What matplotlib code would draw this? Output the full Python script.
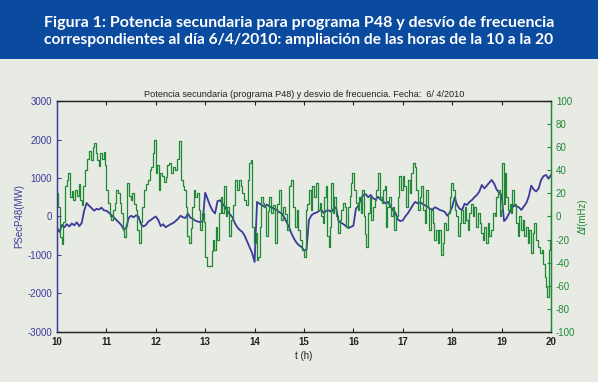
import numpy as np
import matplotlib
matplotlib.use("Agg")
import matplotlib.pyplot as plt
from matplotlib.patches import Rectangle

plt.rcParams['font.family'] = ['Liberation Sans', 'DejaVu Sans']
plt.rcParams['axes.unicode_minus'] = False

# potencia secundaria P48 (MW), un valor cada 0.05 h de 10 a 20
t_p = np.arange(10, 20.001, 0.05)
p_sec = [
    -300, -400, -220, -280, -200, -260, -180, -230, -150, -250,
    -170, 150, 350, 280, 220, 150, 200, 180, 230, 160,
    150, 100, 40, -20, -90, -150, -220, -330, -300, -40,
    20, -20, 30, 0, -200, -260, -220, -130, -90, -40,
    0, -90, -250, -200, -280, -240, -200, -170, -120, -60,
    20, -20, -40, 80, -30, -60, -110, -130, -150, -120,
    620, 450, 280, 150, 80, 400, 420, 340, 250, 140,
    60, -20, -170, -280, -350, -400, -500, -650, -800, -950,
    -1180, 380, 330, 300, 250, 310, 260, 230, 200, 170,
    110, 80, -20, -150, -290, -450, -580, -680, -750, -790,
    -880, -860, -90, 30, 80, 100, 140, 170, 90, 150,
    160, 120, 200, 240, -130, -160, -200, -250, -300, -270,
    -240, 200, 280, 450, 560, 580, 500, 560, 470, 440,
    510, 440, 400, 340, 380, 270, 160, 100, -80, -120,
    -100, 0, 80, 180, 290, 380, 340, 370, 330, 290,
    250, 200, 180, 240, 210, 170, 150, 120, 20, 100,
    250, 500, 300, 200, 170, 330, 300, 380, 430, 500,
    560, 650, 820, 730, 800, 880, 950, 850, 700, 620,
    560, -120, -50, 80, 200, 290, 260, 240, 170, 260,
    350, 520, 800, 700, 650, 730, 950, 1050, 1080, 980,
    1080,
]

# desvio de frecuencia (mHz), escalones: instante de cambio y valor
t_f = [
    10.00, 10.03, 10.07, 10.10, 10.13, 10.16, 10.20, 10.23, 10.26, 10.30,
    10.33, 10.37, 10.40, 10.44, 10.47, 10.50, 10.53, 10.57, 10.60, 10.64,
    10.68, 10.72, 10.75, 10.78, 10.82, 10.85, 10.88, 10.92, 10.95, 10.98,
    11.00, 11.03, 11.07, 11.10, 11.14, 11.17, 11.20, 11.24, 11.27, 11.30,
    11.33, 11.36, 11.40, 11.42, 11.45, 11.49, 11.52, 11.55, 11.59, 11.62,
    11.66, 11.70, 11.73, 11.77, 11.80, 11.84, 11.88, 11.91, 11.94, 11.97,
    12.00, 12.03, 12.06, 12.09, 12.13, 12.17, 12.20, 12.23, 12.27, 12.31,
    12.35, 12.39, 12.43, 12.47, 12.51, 12.55, 12.58, 12.61, 12.64, 12.67,
    12.71, 12.74, 12.77, 12.80, 12.84, 12.87, 12.90, 12.94, 12.97, 13.00,
    13.03, 13.13, 13.15, 13.18, 13.21, 13.24, 13.28, 13.31, 13.35, 13.38,
    13.42, 13.45, 13.48, 13.52, 13.56, 13.60, 13.64, 13.68, 13.72, 13.75,
    13.79, 13.83, 13.86, 13.89, 13.92, 13.95, 13.98, 14.02, 14.04, 14.07,
    14.10, 14.13, 14.17, 14.20, 14.23, 14.27, 14.30, 14.34, 14.38, 14.42,
    14.46, 14.49, 14.53, 14.57, 14.61, 14.65, 14.70, 14.74, 14.78, 14.81,
    14.85, 14.88, 14.92, 14.96, 15.00, 15.04, 15.07, 15.10, 15.14, 15.17,
    15.21, 15.24, 15.28, 15.32, 15.35, 15.38, 15.41, 15.44, 15.47, 15.50,
    15.52, 15.55, 15.58, 15.61, 15.65, 15.68, 15.72, 15.75, 15.79, 15.82,
    15.85, 15.89, 15.93, 15.96, 15.98, 16.02, 16.06, 16.09, 16.12, 16.15,
    16.18, 16.21, 16.24, 16.26, 16.29, 16.33, 16.36, 16.40, 16.43, 16.46,
    16.49, 16.53, 16.57, 16.60, 16.63, 16.66, 16.69, 16.73, 16.76, 16.80,
    16.83, 16.86, 16.90, 16.93, 16.97, 17.00, 17.03, 17.07, 17.10, 17.14,
    17.17, 17.20, 17.24, 17.26, 17.30, 17.34, 17.37, 17.40, 17.44, 17.47,
    17.51, 17.54, 17.57, 17.61, 17.64, 17.68, 17.71, 17.74, 17.78, 17.81,
    17.84, 17.88, 17.91, 17.95, 17.98, 18.01, 18.05, 18.08, 18.11, 18.15,
    18.18, 18.21, 18.25, 18.28, 18.32, 18.35, 18.38, 18.42, 18.45, 18.48,
    18.52, 18.56, 18.59, 18.62, 18.65, 18.69, 18.72, 18.75, 18.79, 18.82,
    18.86, 18.89, 18.92, 18.96, 18.99, 19.01, 19.04, 19.06, 19.09, 19.12,
    19.16, 19.19, 19.22, 19.26, 19.29, 19.33, 19.36, 19.40, 19.43, 19.46,
    19.50, 19.53, 19.56, 19.60, 19.63, 19.66, 19.70, 19.73, 19.77, 19.81,
    19.84, 19.87, 19.90, 19.92, 19.95, 19.97, 19.99, 20.00,
]
df = [
    20, 8, -18, -24, -5, 26, 32, 38, 17, 22,
    14, 23, 18, 28, 14, 10, 26, 40, 50, 57,
    49, 60, 64, 55, 49, 44, 55, 50, 56, 45,
    23, 12, 0, -3, 6, 12, 23, 20, 12, 3,
    -12, -18, -8, 29, 18, 14, 20, 11, 6, -12,
    -23, -5, 8, 23, 28, 32, 40, 43, 55, 66,
    38, 45, 23, 38, 35, 30, 34, 45, 46, 38,
    43, 40, 50, 65, 32, 26, 23, 8, -17, -23,
    -10, 8, 23, 17, 20, 6, -12, 3, -5, -35,
    -43, -30, -20, -29, -9, -20, 3, 17, 3, 26,
    0, 8, -17, -3, 10, 32, 23, 32, 26, 20,
    14, 10, 32, 46, 49, -9, -23, -14, -38, -35,
    -9, 17, 12, 8, -17, 5, 17, 3, 10, -23,
    11, 23, -3, 8, 2, -12, 26, 32, 8, -9,
    6, -12, -20, -29, -35, 6, 11, 23, 6, 26,
    17, 29, 6, 12, 0, -6, 17, 26, -17, -26,
    -9, 29, 3, 17, 0, -14, -3, 6, 12, 8,
    -9, 8, 18, 29, 38, 23, 12, 6, 17, 3,
    23, 0, -15, -26, 3, 17, -3, 8, 14, 23,
    38, 17, 12, 23, 26, -9, 8, 17, 0, 8,
    -12, 0, 17, 35, 23, 35, 26, 8, 32, 20,
    38, 46, 43, 23, 6, 17, 26, 6, -6, 23,
    8, -12, 6, -6, -20, -12, -23, -12, -33, -23,
    -6, -12, 3, 17, 29, 23, 6, 0, -17, -6,
    6, -6, 8, -3, -12, 3, 11, 0, 8, -9,
    3, -6, -14, -20, -9, -23, -6, -17, -12, 3,
    0, 17, 23, 0, 6, 46, 11, 38, 17, 6,
    11, 3, 23, 11, -6, -17, 0, -12, -3, -17,
    -9, -23, -12, -32, -14, -6, -20, -26, -32, -29,
    -41, -52, -61, -70, -29, -20, 5, 5,
]

yticks_p = [-3000, -2000, -1000, 0, 1000, 2000, 3000]
yticks_f = [-100, -80, -60, -40, -20, 0, 20, 40, 60, 80, 100]
xticks = [10, 11, 12, 13, 14, 15, 16, 17, 18, 19, 20]

bg = '#e8eae4'
azul = '#3b3b9b'
verde = '#1f8a36'

fig = plt.figure(figsize=(5.98, 3.82), dpi=100, facecolor=bg)
# banda azul de cabecera
fig.patches.append(Rectangle((0, 0.846), 1, 0.154, transform=fig.transFigure,
                             facecolor='#0b4b9f', edgecolor='none', zorder=0))
fig.text(0.5, 0.941, 'Figura 1: Potencia secundaria para programa P48 y desvío de frecuencia',
         ha='center', va='center', color='white', fontsize=11.5, fontweight='bold', family='Lato')
fig.text(0.5, 0.896, 'correspondientes al día 6/4/2010: ampliación de las horas de la 10 a la 20',
         ha='center', va='center', color='white', fontsize=11.25, fontweight='bold', family='Lato')

ax1 = fig.add_axes([0.0953, 0.1309, 0.8261, 0.6047])
ax1.set_facecolor(bg)
ax1.plot(t_p, p_sec, color=azul, lw=1.3)
ax1.set_xlim(10, 20)
ax1.set_ylim(-3000, 3000)
ax1.set_xticks(xticks)
ax1.set_yticks(yticks_p)
ax1.tick_params(axis='y', direction='in', colors=azul, labelsize=7, length=3, right=True, width=0.8)
ax1.tick_params(axis='x', direction='in', colors='#222222', labelsize=7, length=3, top=True, width=0.8)
for lab in ax1.get_xticklabels():
    lab.set_fontweight('bold')
ax1.set_ylabel('PSecP48(MW)', color=azul, fontsize=7, labelpad=2)
ax1.set_xlabel('t (h)', color='#222222', fontsize=7, labelpad=3)
ax1.set_title('Potencia secundaria (programa P48) y desvio de frecuencia. Fecha:  6/ 4/2010',
              fontsize=6.6, color='#222222', pad=3)

ax2 = ax1.twinx()
ax2.step(t_f, df, where='post', color=verde, lw=0.9)
ax2.set_ylim(-100, 100)
ax2.set_yticks(yticks_f)
ax2.tick_params(axis='y', direction='in', colors=verde, labelsize=7, length=3, width=0.8)
ax2.set_ylabel('Δf(mHz)', color=verde, fontsize=7, labelpad=2)

for a in (ax1, ax2):
    a.spines['top'].set_color('#222222')
    a.spines['bottom'].set_color('#222222')
    a.spines['left'].set_color(azul)
    a.spines['right'].set_color(verde)
    for s in a.spines.values():
        s.set_linewidth(0.9)

fig.savefig('out.png', dpi=100, facecolor=bg)
